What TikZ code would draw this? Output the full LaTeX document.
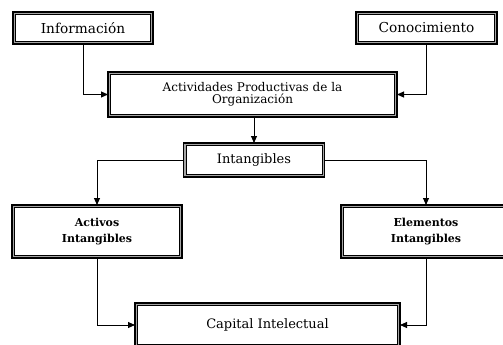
\documentclass[tikz,border=0pt]{standalone}
\usepackage{fontspec}
\setmainfont{DejaVu Serif}
\usetikzlibrary{arrows.meta}
\tikzset{
  box/.style={draw=black, line width=1.6pt, fill=white, inner sep=0pt, outer sep=0pt, align=center,
    font=\fontsize{13}{14}\selectfont,
    path picture={
      \draw[gray!70, line width=1.2pt] ([shift={(1.4pt,1.4pt)}]path picture bounding box.south west) rectangle ([shift={(-1.4pt,-1.4pt)}]path picture bounding box.north east);
      \draw[black, line width=0.6pt] ([shift={(2.3pt,2.3pt)}]path picture bounding box.south west) rectangle ([shift={(-2.3pt,-2.3pt)}]path picture bounding box.north east);
    }},
  boldtext/.style={font=\fontsize{11}{16}\selectfont\bfseries},
  conn/.style={draw=black, line width=0.9pt, -{Triangle[length=7pt,width=6pt]}},
}
\begin{document}
\begin{tikzpicture}[x=1pt,y=-1pt]
\clip (0,0) rectangle (503,345);
\fill[white] (0,0) rectangle (503,345);
\node[box, minimum width=140pt, minimum height=32pt, font=\fontsize{13.7}{14}\selectfont] (info) at (83,28) {Información};
\node[box, minimum width=141pt, minimum height=32pt, font=\fontsize{13.7}{14}\selectfont] (cono) at (426.5,28) {Conocimiento};
\node[box, minimum width=289pt, minimum height=45pt, font=\fontsize{12}{12.5}\selectfont] (act) at (252.5,94.5) {Actividades Productivas de la\\Organización};
\node[box, minimum width=141pt, minimum height=34pt] (intan) at (254,160) {Intangibles};
\node[box, boldtext, minimum width=170pt, minimum height=53pt] (activos) at (97,231.5) {Activos\\Intangibles};
\node[box, boldtext, minimum width=170pt, minimum height=53pt] (elem) at (426,231.5) {Elementos\\Intangibles};
\node[box, minimum width=265pt, minimum height=44pt] (cap) at (267.5,325) {Capital Intelectual};
\draw[conn] (info.south) |- (act.west);
\draw[conn] (cono.south) |- (act.east);
\draw[conn] (act.south -| intan.north) -- (intan.north);
\draw[conn] (intan.west) -| (activos.north);
\draw[conn] (intan.east) -| (elem.north);
\draw[conn] (activos.south) |- (cap.west);
\draw[conn] (elem.south) |- (cap.east);
\end{tikzpicture}
\end{document}
